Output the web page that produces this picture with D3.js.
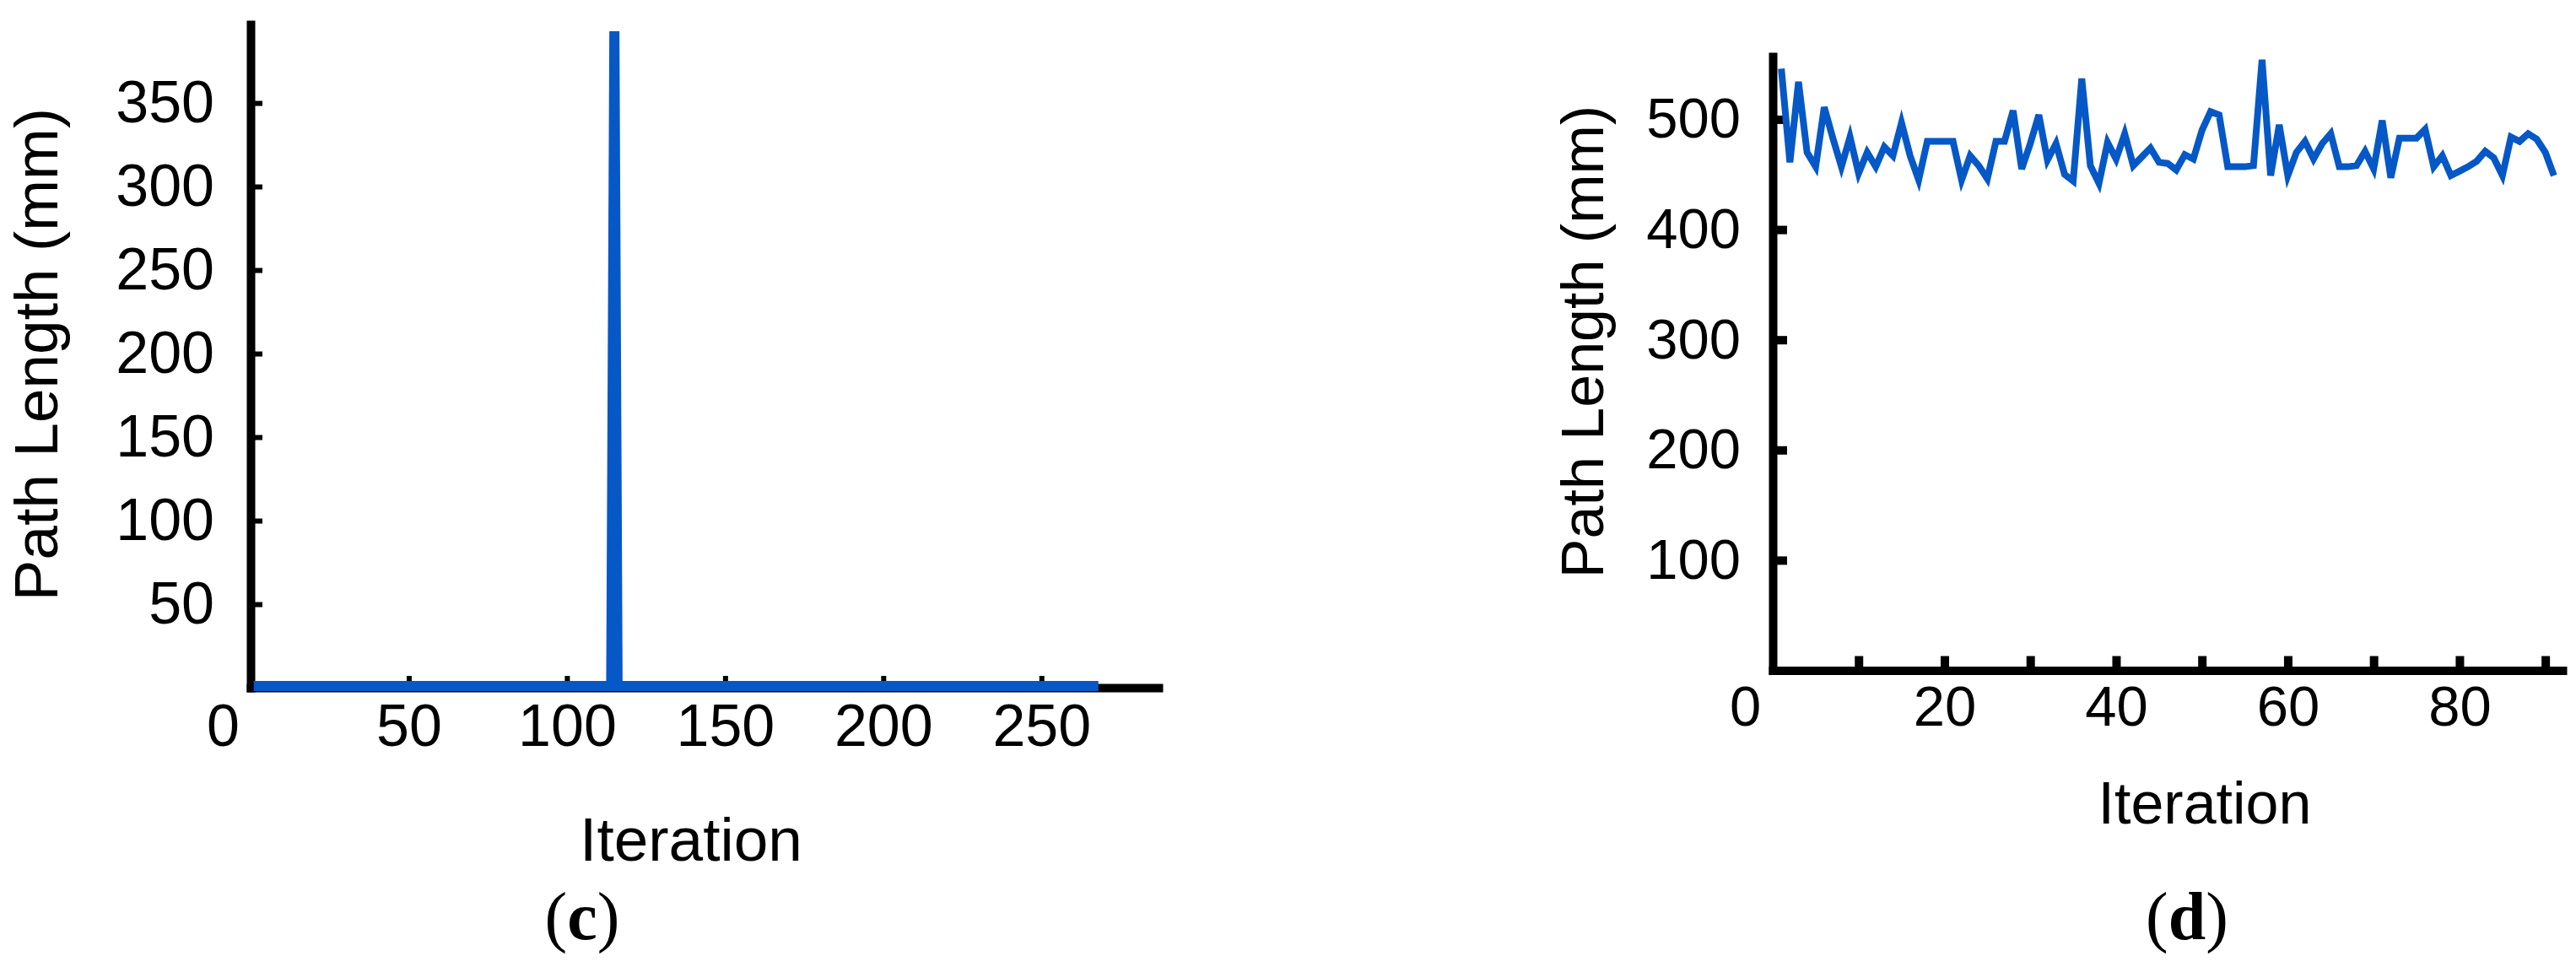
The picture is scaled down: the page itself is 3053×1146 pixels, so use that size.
<!DOCTYPE html>
<html>
<head>
<meta charset="utf-8">
<script src="https://cdn.jsdelivr.net/npm/d3@7"></script>
<style>
  body { margin:0; background:#fff; }
  text { font-family: "Liberation Sans", Arial, sans-serif; fill:#000; }
</style>
</head>
<body>
<svg id="chart" width="3053" height="1146"></svg>
<script>
// panel (c): flat run with one spike, vertices of the polyline
var iterC   = [1, 114, 115, 116, 268];
var lengthC = [1, 1, 393, 1, 1];
var xTicksC = [0, 50, 100, 150, 200, 250];
var yTicksC = [50, 100, 150, 200, 250, 300, 350];

// panel (d): one value per iteration, 1..91
var lengthD = [546, 461, 534, 470, 457, 511, 483, 457, 484, 451,
               470, 457, 475, 467, 497, 467, 445, 480, 480, 480,
               480, 445, 467, 458, 446, 480, 480, 508, 455, 478,
               504, 463, 478, 450, 444, 537, 458, 442, 479, 464,
               487, 458, 466, 474, 461, 460, 454, 468, 464, 490,
               507, 504, 457, 457, 457, 458, 554, 449, 495, 449,
               470, 480, 464, 478, 487, 457, 457, 458, 471, 455,
               499, 447, 483, 483, 483, 491, 457, 467, 449, 453,
               457, 462, 471, 465, 449, 484, 480, 487, 482, 470,
               449];
var iterD   = lengthD.map(function(d, i) { return i + 1; });
var xTicksD = [0, 10, 20, 30, 40, 50, 60, 70, 80, 90];
var xLabelsD = [0, 20, 40, 60, 80];
var yTicksD = [100, 200, 300, 400, 500];

var blue = "#0658c6";
var svg = d3.select("#chart");

function panel(p) {
  var x = d3.scaleLinear().domain(p.xDomain).range(p.xRange);
  var y = d3.scaleLinear().domain(p.yDomain).range(p.yRange);
  var g = svg.append("g");

  var xAxis = d3.axisBottom(x)
      .tickValues(p.xTicks)
      .tickSizeInner(-p.tickLen)
      .tickSizeOuter(0)
      .tickPadding(p.xPad)
      .tickFormat(function(d) { return p.xLabels.indexOf(d) >= 0 ? d : ""; });
  var gx = g.append("g")
      .attr("transform", "translate(0," + y(0) + ")")
      .call(xAxis);

  var yAxis = d3.axisLeft(y)
      .tickValues(p.yTicks)
      .tickSizeInner(-p.tickLen)
      .tickSizeOuter(0)
      .tickPadding(p.yPad);
  var gy = g.append("g")
      .attr("transform", "translate(" + x(0) + ",0)")
      .call(yAxis);

  [gx, gy].forEach(function(a) {
    a.select(".domain").attr("stroke", "#000").attr("stroke-width", p.axisW)
      .attr("stroke-linecap", "square");
    a.selectAll(".tick line").attr("stroke", "#000").attr("stroke-width", p.tickW);
    a.selectAll(".tick text").attr("font-size", p.fontSize)
      .attr("font-family", "Liberation Sans, Arial, sans-serif");
  });
  // the "0" label sits left of the corner, its tick is hidden by the y axis
  gx.selectAll(".tick").filter(function(d) { return d === 0; })
    .select("line").remove();
  gx.selectAll(".tick").filter(function(d) { return d === 0; })
    .select("text").attr("dx", -33);

  var line = d3.line()
      .x(function(d) { return x(d[0]); })
      .y(function(d) { return y(d[1]); });
  g.append("path")
      .datum(d3.zip(p.iter, p.vals))
      .attr("d", line)
      .attr("fill", "none")
      .attr("stroke", blue)
      .attr("stroke-width", p.lineW);

  g.append("text")
      .attr("transform", "translate(" + p.yTitle[0] + "," + p.yTitle[1] + ") rotate(-90)")
      .attr("text-anchor", "middle")
      .attr("font-size", p.titleSize)
      .text("Path Length (mm)");

  g.append("text")
      .attr("x", p.xTitle[0]).attr("y", p.xTitle[1])
      .attr("text-anchor", "middle")
      .attr("font-size", p.titleSize)
      .text("Iteration");

  var cap = g.append("text")
      .attr("x", p.caption[0]).attr("y", p.caption[1])
      .attr("text-anchor", "middle")
      .attr("font-size", 80)
      .style("font-family", "'Liberation Serif', 'Times New Roman', serif");
  cap.append("tspan").text("(");
  cap.append("tspan").attr("font-weight", "bold").text(p.letter);
  cap.append("tspan").text(")");
}

panel({
  iter: iterC, vals: lengthC,
  xDomain: [0, 287], xRange: [297, 1373],
  yDomain: [0, 397], yRange: [815, 29],
  xTicks: xTicksC, xLabels: xTicksC, yTicks: yTicksC,
  tickLen: 14, tickW: 6, axisW: 10, lineW: 12,
  xPad: 19, yPad: 43, fontSize: 70, titleSize: 73,
  yTitle: [68, 420], xTitle: [819, 1020],
  caption: [690, 1113], letter: "c"
});

panel({
  iter: iterD, vals: lengthD,
  xDomain: [0, 92], xRange: [2101, 3037],
  yDomain: [0, 557], yRange: [794.5, 67],
  xTicks: xTicksD, xLabels: xLabelsD, yTicks: yTicksD,
  tickLen: 17, tickW: 10, axisW: 10, lineW: 8,
  xPad: 18, yPad: 38, fontSize: 67, titleSize: 70,
  yTitle: [1900, 405], xTitle: [2613, 976],
  caption: [2592, 1113], letter: "d"
});
</script>
</body>
</html>
